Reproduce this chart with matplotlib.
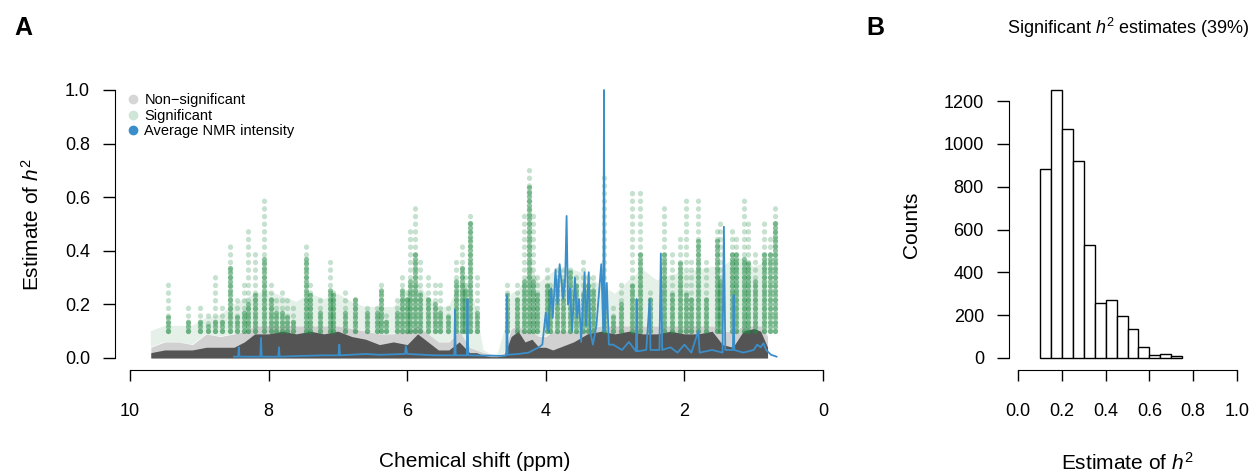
import matplotlib
matplotlib.use("Agg")
import matplotlib.pyplot as plt
from matplotlib.lines import Line2D
import numpy as np

plt.rcParams["font.family"] = ["Liberation Sans", "DejaVu Sans"]
plt.rcParams["mathtext.fontset"] = "custom"
plt.rcParams["mathtext.it"] = "Liberation Sans:italic"
plt.rcParams["mathtext.rm"] = "Liberation Sans"

# ---- panel A: grey (non-significant) mass
grey_ppm = [9.70, 9.50, 9.30, 9.10, 8.90, 8.70, 8.50, 8.35, 8.20, 8.00, 7.80, 7.60,
            7.40, 7.20, 7.00, 6.80, 6.60, 6.40, 6.20, 6.00, 5.85, 5.70, 5.55, 5.40,
            5.25, 5.10, 5.00, 4.90, 4.80, 4.70, 4.60, 4.50, 4.40, 4.30, 4.20, 4.10,
            4.00, 3.90, 3.80, 3.60, 3.40, 3.20, 3.00, 2.80, 2.60, 2.40, 2.20, 2.00,
            1.80, 1.60, 1.45, 1.30, 1.15, 1.00, 0.90, 0.80]
grey_dense = [0.02, 0.03, 0.03, 0.03, 0.04, 0.04, 0.04, 0.06, 0.09, 0.09, 0.10, 0.09,
              0.10, 0.09, 0.10, 0.08, 0.07, 0.05, 0.06, 0.05, 0.09, 0.06, 0.03, 0.03,
              0.06, 0.02, 0.02, 0.01, 0.005, 0.005, 0.01, 0.08, 0.10, 0.06, 0.07, 0.04,
              0.04, 0.03, 0.04, 0.06, 0.09, 0.10, 0.09, 0.10, 0.09, 0.09, 0.10, 0.09,
              0.09, 0.10, 0.05, 0.04, 0.10, 0.11, 0.10, 0.04]
grey_sparse = [0.04, 0.06, 0.06, 0.05, 0.09, 0.08, 0.09, 0.10, 0.12, 0.12, 0.12, 0.12,
               0.12, 0.12, 0.12, 0.11, 0.10, 0.09, 0.09, 0.10, 0.12, 0.09, 0.06, 0.06,
               0.10, 0.04, 0.03, 0.02, 0.015, 0.01, 0.02, 0.11, 0.12, 0.10, 0.10, 0.08,
               0.08, 0.10, 0.10, 0.10, 0.11, 0.12, 0.12, 0.12, 0.12, 0.12, 0.12, 0.12,
               0.12, 0.12, 0.10, 0.10, 0.12, 0.12, 0.12, 0.08]
# faint green haze of scattered significant points above the grey mass
green_haze = [0.10, 0.12, 0.12, 0.12, 0.15, 0.16, 0.20, 0.22, 0.24, 0.25, 0.23, 0.21,
              0.24, 0.22, 0.24, 0.21, 0.19, 0.19, 0.19, 0.24, 0.28, 0.23, 0.19, 0.19,
              0.28, 0.28, 0.18, 0.03, 0.015, 0.01, 0.10, 0.24, 0.25, 0.30, 0.34, 0.28,
              0.30, 0.32, 0.33, 0.33, 0.31, 0.27, 0.24, 0.29, 0.33, 0.29, 0.31, 0.32,
              0.33, 0.34, 0.34, 0.37, 0.37, 0.34, 0.35, 0.38]

# ---- panel A: green (significant) streaks: position, sparse top, dense top
green_ppm = [9.45, 9.17, 8.99, 8.88, 8.77, 8.67, 8.55, 8.45, 8.35, 8.30, 8.19, 8.07,
             7.96, 7.90, 7.80, 7.74, 7.65, 7.46, 7.40, 7.26, 7.11, 7.07, 6.90, 6.75,
             6.58, 6.44, 6.38, 6.30, 6.15, 6.07, 6.01, 5.96, 5.89, 5.82, 5.70, 5.60,
             5.52, 5.41, 5.30, 5.21, 5.16, 5.09, 5.00, 4.56, 4.42, 4.31, 4.24, 4.18,
             4.13, 3.98, 3.94, 3.84, 3.75, 3.65, 3.56, 3.47, 3.39, 3.32, 3.16, 3.03,
             2.92, 2.75, 2.64, 2.50, 2.30, 2.18, 2.06, 1.97, 1.91, 1.80, 1.69, 1.53,
             1.49, 1.32, 1.26, 1.14, 1.08, 0.98, 0.85, 0.76, 0.69]
green_top = [0.29, 0.19, 0.19, 0.18, 0.32, 0.19, 0.42, 0.23, 0.29, 0.49, 0.39, 0.60,
             0.30, 0.24, 0.26, 0.22, 0.19, 0.42, 0.30, 0.23, 0.36, 0.27, 0.26, 0.23,
             0.21, 0.21, 0.30, 0.16, 0.22, 0.33, 0.27, 0.50, 0.57, 0.37, 0.32, 0.29,
             0.28, 0.21, 0.36, 0.42, 0.33, 0.53, 0.31, 0.30, 0.28, 0.54, 0.71, 0.55,
             0.32, 0.34, 0.30, 0.35, 0.34, 0.35, 0.33, 0.38, 0.33, 0.32, 0.68, 0.20,
             0.29, 0.63, 0.63, 0.26, 0.57, 0.39, 0.47, 0.60, 0.37, 0.60, 0.36, 0.49,
             0.52, 0.48, 0.45, 0.60, 0.52, 0.41, 0.51, 0.46, 0.56]
green_core = [0.16, 0.15, 0.14, 0.12, 0.14, 0.14, 0.35, 0.16, 0.18, 0.20, 0.24, 0.37,
              0.22, 0.18, 0.18, 0.16, 0.15, 0.38, 0.25, 0.18, 0.26, 0.24, 0.18, 0.22,
              0.18, 0.17, 0.26, 0.14, 0.18, 0.26, 0.22, 0.30, 0.40, 0.25, 0.22, 0.20,
              0.18, 0.16, 0.30, 0.34, 0.26, 0.51, 0.18, 0.25, 0.22, 0.30, 0.64, 0.30,
              0.24, 0.28, 0.26, 0.30, 0.30, 0.32, 0.28, 0.24, 0.28, 0.26, 0.22, 0.16,
              0.20, 0.28, 0.40, 0.22, 0.40, 0.24, 0.36, 0.24, 0.22, 0.44, 0.22, 0.44,
              0.30, 0.40, 0.40, 0.38, 0.36, 0.30, 0.40, 0.40, 0.52]
green_base = 0.10

# ---- panel A: average NMR intensity (scaled to 1)
nmr_ppm = [8.50, 8.44, 8.43, 8.42, 8.12, 8.11, 8.10, 7.86, 7.85, 7.84, 7.50, 7.20,
           6.99, 6.98, 6.97, 6.60, 6.40, 6.03, 6.02, 6.00, 5.60, 5.32, 5.31, 5.30,
           5.14, 5.13, 5.12, 4.60, 4.57, 4.56, 4.55, 4.40, 4.25, 4.10, 4.05, 4.00,
           3.97, 3.92, 3.90, 3.86, 3.83, 3.80, 3.75, 3.72, 3.70, 3.68, 3.65, 3.62,
           3.58, 3.55, 3.52, 3.49, 3.44, 3.42, 3.38, 3.36, 3.32, 3.27, 3.20, 3.17,
           3.16, 3.15, 3.12, 3.09, 3.03, 2.90, 2.80, 2.70, 2.69, 2.68, 2.55, 2.50,
           2.49, 2.36, 2.34, 2.32, 2.20, 2.10, 2.00, 1.90, 1.80, 1.78, 1.60, 1.45,
           1.43, 1.41, 1.30, 1.29, 1.28, 1.15, 1.00, 0.95, 0.90, 0.86, 0.82, 0.75, 0.67]
nmr_int = [0.005, 0.005, 0.04, 0.005, 0.005, 0.075, 0.005, 0.005, 0.04, 0.005, 0.008, 0.01,
           0.01, 0.05, 0.01, 0.015, 0.012, 0.015, 0.045, 0.015, 0.01, 0.01, 0.18, 0.01,
           0.01, 0.22, 0.01, 0.008, 0.01, 0.235, 0.012, 0.015, 0.02, 0.04, 0.05, 0.17,
           0.10, 0.26, 0.15, 0.33, 0.20, 0.35, 0.22, 0.30, 0.53, 0.20, 0.26, 0.10,
           0.30, 0.15, 0.22, 0.06, 0.32, 0.12, 0.32, 0.10, 0.05, 0.12, 0.35, 0.10,
           1.00, 0.10, 0.28, 0.05, 0.05, 0.03, 0.06, 0.025, 0.22, 0.025, 0.03, 0.22,
           0.03, 0.03, 0.39, 0.03, 0.04, 0.02, 0.05, 0.02, 0.10, 0.02, 0.03, 0.02,
           0.49, 0.03, 0.03, 0.235, 0.03, 0.02, 0.03, 0.05, 0.04, 0.055, 0.03, 0.012, 0.005]

# ---- panel B: histogram of significant h2 estimates
bin_edges = [0.10, 0.15, 0.20, 0.25, 0.30, 0.35, 0.40, 0.45, 0.50, 0.55, 0.60, 0.65, 0.70, 0.75]
counts = [884, 1250, 1071, 921, 529, 255, 269, 196, 134, 52, 14, 19, 11]

W, H = 1254, 474
fig = plt.figure(figsize=(W / 100, H / 100), dpi=100)

# panel A axes: spine at x=115px / y=370px, 10 ppm at 130px, 0 ppm at 823px
pxA = (823 - 130) / 10.0
pyA = 358 - 90
axA = fig.add_axes([115 / W, (H - 370) / H, (835 - 115) / W, (370 - 80) / H])
axA.set_xlim(10 + 15 / pxA, -12 / pxA)
axA.set_ylim(-12 / pyA, 278 / pyA)

grey_c = "#4d4d4d"
green_c = "#238b45"
blue_c = "#3a8ec9"

axA.fill_between(grey_ppm, grey_sparse, green_haze,
                 where=[h > s for h, s in zip(green_haze, grey_sparse)],
                 interpolate=True, color=green_c, alpha=0.12, lw=0)
axA.fill_between(grey_ppm, 0, grey_sparse, color="#9a9a9a", alpha=0.45, lw=0)
axA.fill_between(grey_ppm, 0, grey_dense, color=grey_c, alpha=0.95, lw=0)

# dotted vertical streaks imitate the stacked semi-transparent points
sparse = axA.vlines(green_ppm, green_base, green_top, colors=green_c, alpha=0.25,
                    linewidth=3.8, linestyles=[(0, (0.05, 1.4))])
sparse.set_capstyle("round")
dense = axA.vlines(green_ppm, green_base, green_core, colors=green_c, alpha=0.5,
                   linewidth=3.8, linestyles=[(0, (0.05, 0.8))])
dense.set_capstyle("round")

axA.plot(nmr_ppm, nmr_int, color=blue_c, lw=1.3, clip_on=False)

for s in ["top", "right"]:
    axA.spines[s].set_visible(False)
axA.spines["left"].set_bounds(0, 1)
axA.spines["bottom"].set_bounds(10, 0)
axA.set_xticks([10, 8, 6, 4, 2, 0])
axA.set_xticklabels(["10", "8", "6", "4", "2", "0"])
axA.set_yticks([0, 0.2, 0.4, 0.6, 0.8, 1.0])
axA.set_yticklabels(["0.0", "0.2", "0.4", "0.6", "0.8", "1.0"])
axA.tick_params(axis="x", direction="out", length=8, width=1, labelsize=13, pad=16)
axA.tick_params(axis="y", direction="out", length=9, width=1, labelsize=13, pad=9)
axA.set_xlabel("Chemical shift (ppm)", fontsize=15, labelpad=23)
axA.set_ylabel("Estimate of $h^2$", fontsize=15, labelpad=16)

handles = [Line2D([], [], marker="o", ls="", ms=6, color="#d6d6d6"),
           Line2D([], [], marker="o", ls="", ms=6, color="#cfe6d6"),
           Line2D([], [], marker="o", ls="", ms=6, color=blue_c)]
axA.legend(handles, ["Non\u2212significant", "Significant", "Average NMR intensity"],
           loc="upper left", bbox_to_anchor=(118 / W, (H - 86) / H),
           bbox_transform=fig.transFigure, frameon=False, fontsize=10.5,
           handletextpad=0.3, labelspacing=0.1, handlelength=1.0, borderpad=0)

# panel B axes: y spine at 1009px, x spine at 370px
pxB = 1237 - 1018
pyB = (358 - 101) / 1200
axB = fig.add_axes([1009 / W, (H - 370) / H, (1245 - 1009) / W, (370 - 80) / H])
axB.set_xlim((1009 - 1018) / pxB, (1245 - 1018) / pxB)
axB.set_ylim(-12 / pyB, 278 / pyB)
axB.bar(bin_edges[:-1], counts, width=np.diff(bin_edges), align="edge",
        facecolor="white", edgecolor="black", linewidth=1)
for s in ["top", "right"]:
    axB.spines[s].set_visible(False)
axB.spines["left"].set_bounds(0, 1200)
axB.spines["bottom"].set_bounds(0, 1)
axB.set_xticks([0, 0.2, 0.4, 0.6, 0.8, 1.0])
axB.set_xticklabels(["0.0", "0.2", "0.4", "0.6", "0.8", "1.0"])
axB.set_yticks([0, 200, 400, 600, 800, 1000, 1200])
axB.tick_params(axis="x", direction="out", length=8, width=1, labelsize=13, pad=16)
axB.tick_params(axis="y", direction="out", length=9, width=1, labelsize=13, pad=9)
axB.set_xlabel("Estimate of $h^2$", fontsize=15, labelpad=23)
axB.set_ylabel("Counts", fontsize=15, labelpad=16)

fig.text(14 / W, 1 - 28 / H, "A", fontsize=18, fontweight="bold", ha="left", va="center")
fig.text(866 / W, 1 - 28 / H, "B", fontsize=18, fontweight="bold", ha="left", va="center")
fig.text(1128 / W, 1 - 28 / H, "Significant $h^2$ estimates (39%)", fontsize=13,
         ha="center", va="center")

fig.savefig("out.png", dpi=100)
